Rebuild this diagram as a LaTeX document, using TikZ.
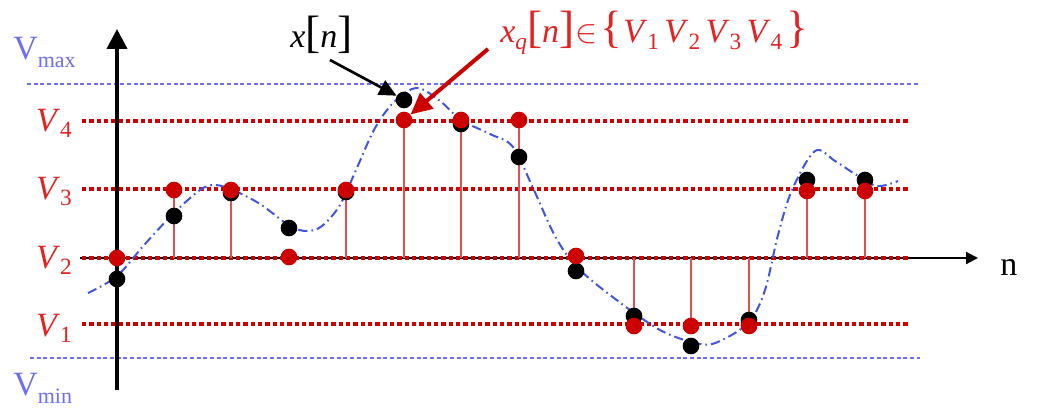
\documentclass[tikz,border=0pt]{standalone}
\usepackage{fontspec}
\setmainfont{Liberation Serif}
\usetikzlibrary{arrows.meta}
\definecolor{qred}{RGB}{205,0,0}
\definecolor{lred}{RGB}{225,35,35}
\definecolor{stemred}{RGB}{228,80,80}
\definecolor{vblue}{RGB}{110,110,240}
\definecolor{cblue}{RGB}{65,85,220}
\newcommand{\sbs}[1]{\raisebox{-5pt}{\fontsize{17.5}{18}\selectfont #1}}
\newcommand{\bigd}[1]{{\fontsize{34}{34}\selectfont #1}}
\begin{document}
\begin{tikzpicture}[x=0.75pt,y=-0.75pt,
  guide/.style={vblue, line width=0.8pt, dash pattern=on 3pt off 2pt},
  level/.style={qred, line width=3.3pt, dash pattern=on 3.3pt off 2.2pt},
  stem/.style={stemred, line width=1.1pt},
  bdot/.style={circle, fill=black, inner sep=0pt, minimum size=12.5pt},
  rdot/.style={circle, fill=qred, inner sep=0pt, minimum size=12.5pt},
  sig/.style={cblue, line width=1.5pt, dash pattern=on 7pt off 3pt on 1.2pt off 3pt},
  lab/.style={inner sep=0pt, font=\fontsize{25.5}{28}\selectfont},
  vlab/.style={lab, text=lred, anchor=base east},
  blab/.style={lab, text=vblue, anchor=base west}]
\useasboundingbox (0,0) rectangle (1038,410);
% guide lines Vmax / Vmin
\coordinate (gmaxA) at (27,84); \coordinate (gmaxB) at (920,84);
\coordinate (gminA) at (30,358); \coordinate (gminB) at (920,358);
\draw[guide] (gmaxA) -- (gmaxB);
\draw[guide] (gminA) -- (gminB);
% horizontal axis
\coordinate (hA) at (80,258); \coordinate (hB) at (978,258);
\draw[line width=1.5pt, -{Triangle[width=9pt,length=9pt]}] (hA) -- (hB);
% quantization levels
\foreach \k/\y in {4/121,3/189,2/258,1/324}{
  \coordinate (L\k a) at (82,\y); \coordinate (L\k b) at (908,\y);
  \draw[level] (L\k a) -- (L\k b);
}
% vertical axis
\coordinate (vA) at (117,390); \coordinate (vB) at (117,29);
\draw[line width=3pt, -{Triangle[width=15pt,length=15pt]}] (vA) -- (vB);
% continuous signal
\draw[sig] plot[smooth, tension=0.55] coordinates {(88,293) (117,276) (145,244) (173,214) (200,190) (215,185) (233,190) (260,204) (290,226) (307,231) (322,226) (340,205) (356,170) (375,128) (395,101) (417,88) (440,101) (461,120) (490,134) (513,147) (533,188) (555,236) (576,266) (610,295) (660,330) (700,344) (720,341) (749,322) (765,290) (778,235) (792,190) (815,151) (835,161) (855,174) (877,186) (898,181)};
% samples
\foreach \i/\x/\yb/\yr in {1/117/279/258, 2/174/216/190, 3/231/193/190, 4/289/228/257, 5/346/192/190, 6/404/100/120, 7/461/124/120, 8/519/157/120, 9/576/271/256, 10/634/316/326, 11/691/346/326, 12/749/320/326, 13/807/180/191, 14/865/180/191}{
  \coordinate (p\i) at (\x,\yr);
  \coordinate (a\i) at (\x,258);
  \draw[stem] (p\i) -- (a\i);
}
\foreach \i/\x/\yb/\yr in {1/117/279/258, 2/174/216/190, 3/231/193/190, 4/289/228/257, 5/346/192/190, 6/404/100/120, 7/461/124/120, 8/519/157/120, 9/576/271/256, 10/634/316/326, 11/691/346/326, 12/749/320/326, 13/807/180/191, 14/865/180/191}{
  \node[bdot] (b\i) at (\x,\yb) {};
}
\foreach \i/\x/\yb/\yr in {1/117/279/258, 2/174/216/190, 3/231/193/190, 4/289/228/257, 5/346/192/190, 6/404/100/120, 7/461/124/120, 8/519/157/120, 9/576/271/256, 10/634/316/326, 11/691/346/326, 12/749/320/326, 13/807/180/191, 14/865/180/191}{
  \node[rdot] (r\i) at (p\i) {};
}
% level labels
\node[vlab] (V4) at (72,131) {\textit{V}\sbs{4}};
\node[vlab] (V3) at (72,199) {\textit{V}\sbs{3}};
\node[vlab] (V2) at (72,268) {\textit{V}\sbs{2}};
\node[vlab] (V1) at (72,336) {\textit{V}\sbs{1}};
\node[blab] (vmax) at (13,60) {V\raisebox{-6pt}{\fontsize{16.5}{17}\selectfont max}};
\node[blab] (vmin) at (13,395) {V\raisebox{-6pt}{\fontsize{16.5}{17}\selectfont min}};
\node[lab, anchor=base west] (n) at (1000,275) {n};
% annotations
\node[lab, anchor=base west] (xn) at (290,48) {\textit{x}\bigd{[}\textit{n}\bigd{]}};
\node[lab, anchor=base west, text=lred] (xq) at (500,43) {\textit{x}\sbs{\textit{q}}\bigd{[}\textit{n}\bigd{]}\hspace{1pt}$\in$\hspace{2pt}\bigd{\{}\hspace{1pt}\textit{V}\sbs{1}\hspace{4pt}\textit{V}\sbs{2}\hspace{4pt}\textit{V}\sbs{3}\hspace{4pt}\textit{V}\sbs{4}\hspace{3pt}\bigd{\}}};
\draw[line width=2pt, -{Triangle[width=12pt,length=13pt]}] ([shift={(40,12)}]xn.base west) -- (b6.150);
\draw[qred, line width=3pt, -{Triangle[width=15pt,length=16pt]}] ([shift={(-12,6)}]xq.base west) -- (r6.40);
\end{tikzpicture}
\end{document}
